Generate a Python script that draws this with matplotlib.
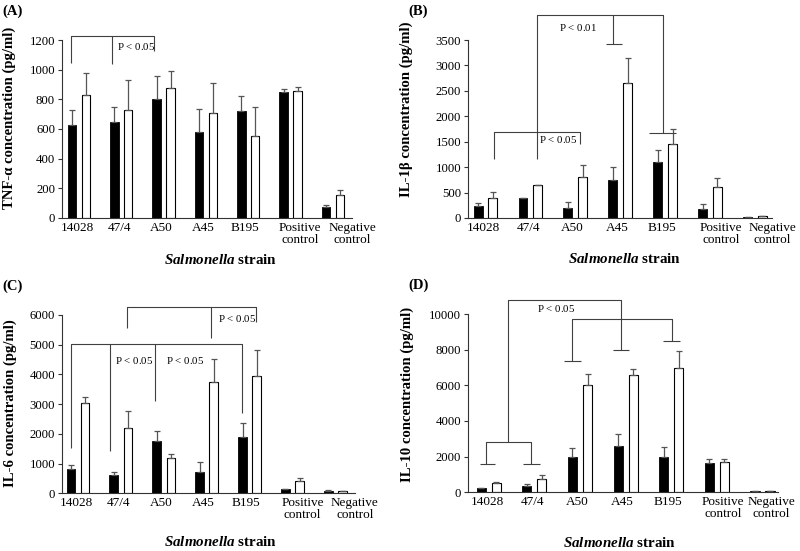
import numpy as np
import matplotlib
matplotlib.use('Agg')
import matplotlib.pyplot as plt

plt.rcParams['font.family'] = ['Liberation Serif', 'DejaVu Serif']
plt.rcParams['mathtext.fontset'] = 'custom'
plt.rcParams['mathtext.rm'] = 'Liberation Serif'
plt.rcParams['mathtext.it'] = 'Liberation Serif:italic'
plt.rcParams['mathtext.bf'] = 'Liberation Serif:bold'
plt.rcParams['mathtext.bfit'] = 'Liberation Serif:italic:bold'

# 数据
strains = ['14028', '47/4', 'A50', 'A45', 'B195', 'Positive\ncontrol', 'Negative\ncontrol']

tnf_black = [625, 650, 800, 580, 720, 850, 75]
tnf_black_err = [100, 100, 160, 155, 100, 20, 15]
tnf_white = [830, 730, 875, 710, 555, 855, 155]
tnf_white_err = [145, 200, 115, 200, 190, 30, 35]

il1b_black = [240, 390, 200, 740, 1100, 170, 20]
il1b_black_err = [60, 0, 120, 260, 240, 100, 5]
il1b_white = [400, 650, 815, 2650, 1450, 615, 30]
il1b_white_err = [110, 0, 235, 500, 300, 165, 10]

il6_black = [830, 600, 1750, 720, 1900, 130, 90]
il6_black_err = [120, 120, 350, 330, 450, 30, 10]
il6_white = [3020, 2200, 1200, 3750, 3950, 420, 70]
il6_white_err = [210, 550, 120, 750, 870, 100, 20]

il10_black = [220, 380, 2000, 2600, 2000, 1650, 60]
il10_black_err = [40, 100, 500, 650, 550, 200, 20]
il10_white = [500, 750, 6000, 6600, 7000, 1700, 60]
il10_white_err = [100, 210, 650, 300, 950, 150, 20]

fig = plt.figure(figsize=(8, 5.51), dpi=100)

lc = '#404040'


def panel(rect, black, berr, white, werr, ymax, ystep, xlim, ylabel, letter,
          ylab_pos, xlab_pos, ctrl_shift=(0.23, 0.45)):
    ax = fig.add_axes(rect)
    x = np.arange(len(strains))
    w = 0.2
    ax.bar(x - 0.165, black, w, color='black', edgecolor='black', lw=0.6,
           yerr=[np.zeros(len(berr)), berr], error_kw=dict(ecolor='#555555', elinewidth=0.9, capsize=2.5, capthick=0.9))
    ax.bar(x + 0.165, white, w, color='white', edgecolor='black', lw=0.8,
           yerr=[np.zeros(len(werr)), werr], error_kw=dict(ecolor='#555555', elinewidth=0.9, capsize=2.5, capthick=0.9))
    ax.set_xlim(*xlim)
    ax.set_ylim(0, ymax)
    ax.set_yticks(np.arange(0, ymax + 1, ystep))
    ax.set_xticks(x + np.array([-0.04, -0.05, -0.06, -0.07, -0.08, ctrl_shift[0], ctrl_shift[1]]))
    ax.set_xticklabels(strains, fontsize=9.5, linespacing=0.95)
    ax.tick_params(axis='x', length=0, pad=3)
    ax.tick_params(axis='y', length=3, width=0.8, pad=2, labelsize=9.2, color='#333333')
    for s in ['top', 'right']:
        ax.spines[s].set_visible(False)
    for s in ['left', 'bottom']:
        ax.spines[s].set_linewidth(0.8)
        ax.spines[s].set_color('#333333')
    ax.set_ylabel(ylabel, fontsize=10.6, fontweight='bold')
    ax.yaxis.set_label_coords(*ylab_pos)
    ax.text(xlab_pos[0], xlab_pos[1], r'$\mathbfit{Salmonella}$ strain', transform=ax.transAxes,
            ha='center', va='center', fontsize=10.8, fontweight='bold')
    fig.text(rect[0] - 0.074, rect[1] + rect[3] + 0.052, letter, fontsize=10.5, fontweight='bold',
             ha='left', va='center')
    return ax


def bracket(ax, xs, ys):
    ax.plot(xs, ys, color=lc, lw=0.8, clip_on=False, solid_capstyle='butt')


def pval(ax, x, y, p):
    ax.text(x, y, 'P < $\\mathit{' + p + '}$', fontsize=7.8, ha='center', va='center')


# (A)
axA = panel([0.0775, 0.6044, 0.3625, 0.323], tnf_black, tnf_black_err, tnf_white, tnf_white_err,
            1200, 200, (-0.4, 6.23), 'TNF-α concentration (pg/ml)', '(A)', (-0.16, 0.56), (0.547, -0.236))
bracket(axA, [-0.18, -0.18, 1.78, 1.78], [1043, 1227, 1227, 1128])
bracket(axA, [0.79, 0.79], [1227, 1036])
pval(axA, 1.34, 1155, '0.05')

# (B)
axB = panel([0.585, 0.6044, 0.38, 0.323], il1b_black, il1b_black_err, il1b_white, il1b_white_err,
            3500, 500, (-0.39, 6.36), 'IL-1β concentration (pg/ml)', '(B)', (-0.18, 0.61), (0.516, -0.233),
            ctrl_shift=(0.25, 0.38))
bracket(axB, [1.15, 1.15, 3.95, 3.95], [1156, 3984, 3984, 1666])
bracket(axB, [3.65, 4.24], [1666, 1666])
bracket(axB, [2.85, 2.85], [3984, 3429])
bracket(axB, [2.69, 3.04], [3429, 3429])
bracket(axB, [0.19, 0.19, 2.1, 2.1], [1156, 1698, 1698, 1456])
pval(axB, 2.05, 3755, '0.01')
pval(axB, 1.61, 1548, '0.05')

# (C)
axC = panel([0.0775, 0.1047, 0.366, 0.324], il6_black, il6_black_err, il6_white, il6_white_err,
            6000, 1000, (-0.37, 6.33), 'IL-6 concentration (pg/ml)', '(C)', (-0.155, 0.505), (0.54, -0.271))
bracket(axC, [1.14, 1.14, 4.16, 4.16], [5543, 6248, 6248, 5765])
bracket(axC, [3.11, 3.11], [6248, 5207])
bracket(axC, [-0.17, -0.17, 3.83, 3.83], [1512, 5005, 5005, 2687])
bracket(axC, [0.75, 0.75], [5005, 1431])
bracket(axC, [1.79, 1.79], [5005, 3101])
pval(axC, 3.71, 5879, '0.05')
pval(axC, 1.32, 4455, '0.05')
pval(axC, 2.5, 4455, '0.05')

# (D)
axD = panel([0.585, 0.1065, 0.3875, 0.3236], il10_black, il10_black_err, il10_white, il10_white_err,
            10000, 2000, (-0.455, 6.34), 'IL-10 concentration (pg/ml)', '(D)', (-0.175, 0.55), (0.49, -0.283),
            ctrl_shift=(0.14, 0.2))
bracket(axD, [0.415, 0.415, 2.9, 2.9], [2838, 10785, 10785, 7981])
bracket(axD, [2.72, 3.08], [7981, 7981])
bracket(axD, [-0.06, -0.06, 0.92, 0.92], [1587, 2838, 2838, 1587])
bracket(axD, [-0.19, 0.14], [1587, 1587])
bracket(axD, [0.76, 1.13], [1587, 1587])
bracket(axD, [1.83, 1.83, 4.01, 4.01], [7364, 9703, 9703, 8486])
bracket(axD, [1.66, 2.02], [7364, 7364])
bracket(axD, [3.83, 4.19], [8486, 8486])
pval(axD, 1.47, 10320, '0.05')

fig.savefig('out.png', dpi=100)
